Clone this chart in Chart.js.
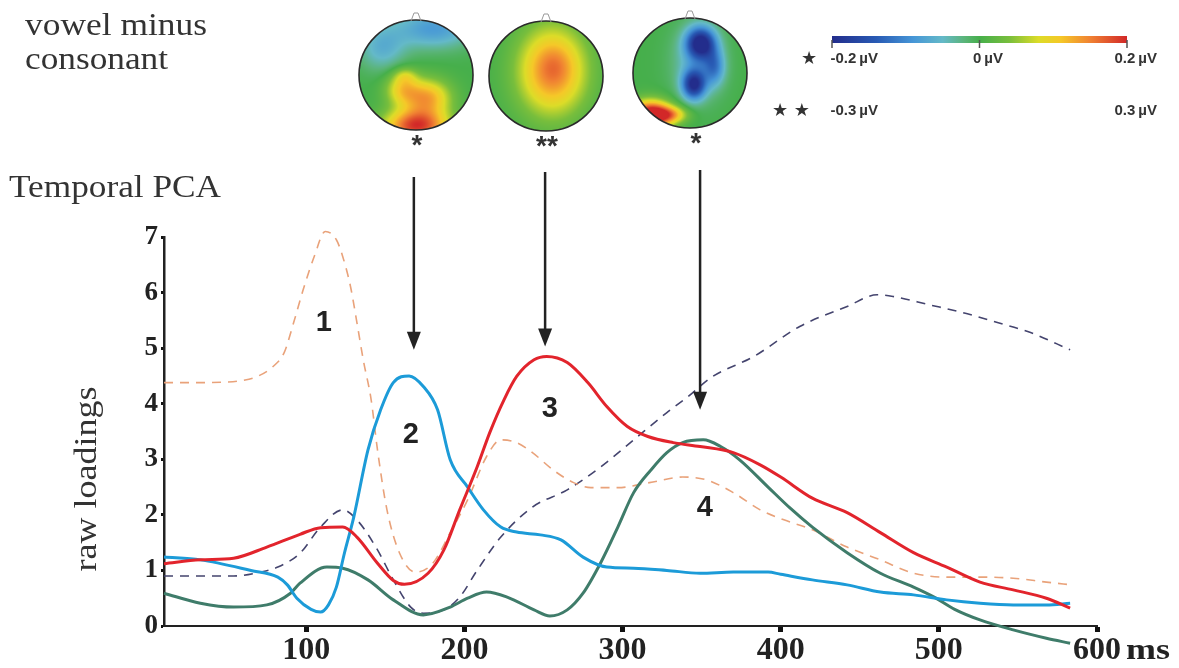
<!DOCTYPE html>
<html>
<head>
<meta charset="utf-8">
<script src="https://cdn.jsdelivr.net/npm/chart.js@4.4.1/dist/chart.umd.min.js"></script>
<style>
  html, body { margin: 0; padding: 0; background: #fff; }
  canvas { display: block; }
</style>
</head>
<body>
<canvas id="pcaChart" width="1179" height="668"></canvas>
<script>
// Temporal PCA factor loadings (ms vs raw loading)
const comp1Ms   = [10, 30, 50, 60, 69, 79, 86, 92, 98, 105, 112, 119, 123, 128, 132, 136, 141, 145, 151, 159, 169, 180, 191, 202, 214, 223, 233, 243, 256, 269, 280, 297, 317, 338, 353, 370, 387, 402, 420, 442, 463, 484, 505, 526, 547, 568, 584];
const comp1Load = [4.38, 4.38, 4.39, 4.42, 4.49, 4.67, 4.92, 5.46, 6.05, 6.65, 7.1, 6.95, 6.65, 6.1, 5.46, 4.79, 4.07, 3.17, 2.09, 1.31, 0.97, 1.13, 1.68, 2.27, 3.05, 3.35, 3.3, 3.12, 2.81, 2.58, 2.49, 2.49, 2.58, 2.68, 2.63, 2.4, 2.09, 1.91, 1.73, 1.42, 1.19, 0.95, 0.88, 0.88, 0.86, 0.79, 0.74];

const comp2Ms   = [10, 33, 65, 82, 88, 94, 103, 109, 114, 119, 124, 130, 139, 147, 155, 165, 174, 183, 191, 202, 212, 223, 233, 248, 261, 275, 290, 307, 328, 349, 370, 392, 400, 420, 442, 463, 484, 505, 526, 547, 568, 583];
const comp2Load = [1.24, 1.19, 1.0, 0.88, 0.74, 0.5, 0.3, 0.25, 0.38, 0.7, 1.3, 1.96, 3.17, 3.89, 4.38, 4.5, 4.31, 3.89, 2.99, 2.5, 2.09, 1.78, 1.69, 1.64, 1.55, 1.24, 1.06, 1.04, 1.0, 0.95, 0.97, 0.97, 0.93, 0.83, 0.74, 0.61, 0.56, 0.47, 0.41, 0.38, 0.38, 0.41];

const comp3Ms   = [10, 33, 54, 75, 96, 109, 123, 132, 145, 155, 162, 177, 187, 197, 208, 216, 225, 233, 244, 252, 265, 278, 290, 303, 316, 332, 349, 370, 387, 400, 420, 442, 463, 484, 505, 526, 547, 568, 583];
const comp3Load = [1.12, 1.19, 1.22, 1.42, 1.65, 1.77, 1.78, 1.6, 1.13, 0.82, 0.75, 0.95, 1.37, 2.09, 2.86, 3.48, 4.07, 4.49, 4.79, 4.85, 4.74, 4.38, 3.95, 3.59, 3.41, 3.3, 3.23, 3.12, 2.9, 2.68, 2.3, 2.04, 1.68, 1.32, 1.06, 0.79, 0.65, 0.5, 0.32];

const comp4Ms   = [10, 33, 54, 75, 90, 96, 113, 123, 139, 155, 174, 191, 202, 214, 227, 244, 254, 265, 275, 286, 297, 307, 318, 328, 338, 351, 362, 374, 392, 406, 420, 442, 463, 484, 497, 510, 526, 547, 568, 583];
const comp4Load = [0.59, 0.41, 0.34, 0.38, 0.59, 0.77, 1.06, 1.04, 0.83, 0.47, 0.2, 0.34, 0.5, 0.61, 0.52, 0.29, 0.18, 0.29, 0.59, 1.13, 1.78, 2.4, 2.81, 3.12, 3.3, 3.35, 3.23, 2.99, 2.5, 2.12, 1.78, 1.32, 0.95, 0.7, 0.52, 0.3, 0.11, -0.07, -0.22, -0.31];

const comp5Ms   = [10, 33, 54, 71, 82, 96, 109, 123, 132, 145, 155, 166, 174, 187, 197, 208, 223, 243, 265, 286, 307, 328, 341, 357, 383, 412, 442, 461, 471, 494, 515, 537, 558, 583];
const comp5Load = [0.9, 0.9, 0.9, 0.97, 1.06, 1.31, 1.78, 2.09, 1.91, 1.37, 0.83, 0.34, 0.23, 0.29, 0.52, 1.0, 1.6, 2.14, 2.45, 2.86, 3.35, 3.84, 4.12, 4.49, 4.85, 5.39, 5.75, 5.96, 5.93, 5.78, 5.64, 5.46, 5.28, 4.97];

const xTicks = [100, 200, 300, 400, 500, 600];
const yTicks = [0, 1, 2, 3, 4, 5, 6, 7];

// component numbers written next to their peaks
const compNames = ['1', '2', '3', '4'];
const compNameMs = [111, 166, 254, 352];
const compNameLoad = [5.46, 3.44, 3.9, 2.13];

// arrows from the topographies down to the peaks
const arrowMs = [168, 251, 349];
const arrowTipLoad = [4.97, 5.03, 3.89];
const arrowTopPx = [177, 172, 170];
const mapStars = ['*', '**', '*'];

// scalp map blobs: [u, v, sx, sy, amplitude] in unit-circle coords
const mapBlobs = [
  [[0.0, 0.92, 0.55, 0.3, 0.95], [0.2, 0.4, 0.4, 0.33, 0.62], [-0.25, 0.25, 0.3, 0.3, 0.45],
   [-0.2, 0.0, 0.2, 0.15, 0.2], [0.3, -0.85, 0.7, 0.35, -0.42], [-0.6, -0.5, 0.4, 0.4, -0.3]],
  [[0.1, -0.1, 0.6, 0.8, 0.75], [0.15, -0.2, 0.3, 0.35, 0.08]],
  [[0.18, -0.55, 0.25, 0.28, -1.0], [0.06, 0.2, 0.2, 0.26, -0.9], [0.42, -0.12, 0.18, 0.32, -0.45],
   [0.12, -0.2, 0.42, 0.65, -0.28], [-0.7, 0.75, 0.35, 0.25, 1.2], [-0.35, 0.75, 0.3, 0.15, 0.5]]
];
const mapCx = [416, 546, 690];
const mapCy = [75, 76, 73];

// jet-like colour scale, value -1..1
const cmapStops = [
  [-1.0, [35, 45, 140]], [-0.7, [40, 90, 180]], [-0.45, [70, 150, 215]], [-0.25, [100, 185, 200]],
  [-0.1, [90, 180, 120]], [0.0, [70, 175, 75]], [0.2, [120, 190, 60]], [0.4, [220, 220, 40]],
  [0.55, [245, 200, 40]], [0.75, [240, 130, 50]], [1.0, [210, 40, 40]]
];

const cmap = (v) => {
  v = Math.max(-1, Math.min(1, v));
  for (let i = 1; i < cmapStops.length; i++) {
    if (v <= cmapStops[i][0]) {
      const [a, ca] = cmapStops[i - 1];
      const [b, cb] = cmapStops[i];
      const t = (v - a) / (b - a);
      return ca.map((c, k) => Math.round(c + (cb[k] - c) * t));
    }
  }
  return cmapStops[cmapStops.length - 1][1];
};

const renderMap = (blobs, w, h) => {
  const off = document.createElement('canvas');
  off.width = w; off.height = h;
  const c = off.getContext('2d');
  const img = c.createImageData(w, h);
  for (let y = 0; y < h; y++) {
    for (let x = 0; x < w; x++) {
      const u = (x - w / 2) / (w / 2);
      const v = (y - h / 2) / (h / 2);
      let val = 0;
      blobs.forEach(([bx, by, sx, sy, a]) => {
        val += a * Math.exp(-((u - bx) ** 2 / (sx * sx) + (v - by) ** 2 / (sy * sy)));
      });
      const col = cmap(val);
      const p = (y * w + x) * 4;
      img.data[p] = col[0]; img.data[p + 1] = col[1]; img.data[p + 2] = col[2]; img.data[p + 3] = 255;
    }
  }
  c.putImageData(img, 0, 0);
  return off;
};

const stretchText = (ctx, text, x, y, width, align) => {
  const w = ctx.measureText(text).width;
  ctx.save();
  ctx.translate(x, y);
  ctx.scale(width / w, 1);
  ctx.textAlign = align || 'left';
  ctx.fillText(text, 0, 0);
  ctx.restore();
};

const toPoints = (ms, load) => ms.map((t, i) => ({ x: t, y: load[i] }));

const figureDecor = {
  id: 'figureDecor',
  afterDraw(chart) {
    const ctx = chart.ctx;
    const xs = chart.scales.x;
    const ys = chart.scales.y;
    ctx.save();

    // headings
    ctx.fillStyle = '#333';
    ctx.textBaseline = 'alphabetic';
    ctx.font = '32px "Liberation Serif"';
    stretchText(ctx, 'vowel minus', 25, 35, 182);
    stretchText(ctx, 'consonant', 25, 69, 143);
    stretchText(ctx, 'Temporal PCA', 9, 197, 212);

    // y axis title
    ctx.save();
    ctx.translate(96, 479);
    ctx.rotate(-Math.PI / 2);
    ctx.font = '32px "Liberation Serif"';
    ctx.textBaseline = 'alphabetic';
    stretchText(ctx, 'raw loadings', 0, 0, 185, 'center');
    ctx.restore();

    // unit after the last x tick
    ctx.font = 'bold 30px "Liberation Serif"';
    ctx.fillStyle = '#222';
    stretchText(ctx, 'ms', 1126, 659, 44);

    // scalp topographies
    const rx = 57, ry = 55;
    mapBlobs.forEach((blobs, i) => {
      const cx = mapCx[i], cy = mapCy[i];
      const img = renderMap(blobs, rx * 2, ry * 2);
      ctx.save();
      ctx.beginPath();
      ctx.ellipse(cx, cy, rx, ry, 0, 0, Math.PI * 2);
      ctx.clip();
      ctx.drawImage(img, cx - rx, cy - ry);
      ctx.restore();
      ctx.beginPath();
      ctx.ellipse(cx, cy, rx, ry, 0, 0, Math.PI * 2);
      ctx.strokeStyle = '#2a2a2a';
      ctx.lineWidth = 1.6;
      ctx.stroke();
      // nose
      ctx.beginPath();
      ctx.moveTo(cx - 5, cy - ry + 1);
      ctx.lineTo(cx - 2, cy - ry - 7);
      ctx.lineTo(cx + 2, cy - ry - 7);
      ctx.lineTo(cx + 5, cy - ry + 1);
      ctx.strokeStyle = '#999';
      ctx.lineWidth = 1;
      ctx.stroke();
      // significance stars
      ctx.fillStyle = '#333';
      ctx.font = 'bold 28px "Liberation Sans"';
      ctx.textAlign = 'center';
      ctx.textBaseline = 'top';
      ctx.fillText(mapStars[i], cx + (i === 2 ? 6 : 1), cy + ry + 2);
    });

    // colour bar
    const bx0 = 832, bx1 = 1127, by = 36;
    const grad = ctx.createLinearGradient(bx0, 0, bx1, 0);
    cmapStops.forEach(([v, c]) => grad.addColorStop((v + 1) / 2, `rgb(${c[0]},${c[1]},${c[2]})`));
    ctx.fillStyle = grad;
    ctx.fillRect(bx0, by, bx1 - bx0, 7);
    ctx.strokeStyle = '#555';
    ctx.lineWidth = 1.5;
    [bx0, (bx0 + bx1) / 2, bx1].forEach(x => {
      ctx.beginPath();
      ctx.moveTo(x, by + 4);
      ctx.lineTo(x, by + 12);
      ctx.stroke();
    });
    ctx.fillStyle = '#333';
    ctx.font = 'bold 15px "Liberation Sans"';
    ctx.textBaseline = 'middle';
    ctx.textAlign = 'right';
    ctx.fillText('-0.2\u2009\u00b5V', 878, 59);
    ctx.fillText('-0.3\u2009\u00b5V', 878, 111);
    ctx.fillText('0.2\u2009\u00b5V', 1157, 59);
    ctx.fillText('0.3\u2009\u00b5V', 1157, 111);
    ctx.textAlign = 'center';
    ctx.fillText('0\u2009\u00b5V', 988, 59);
    ctx.font = '18px "DejaVu Sans"';
    ctx.fillText('\u2605', 809, 59);
    ctx.fillText('\u2605 \u2605', 791, 111);

    // arrows
    ctx.strokeStyle = '#222';
    ctx.fillStyle = '#222';
    arrowMs.forEach((ms, i) => {
      const x = xs.getPixelForValue(ms);
      const tip = ys.getPixelForValue(arrowTipLoad[i]);
      ctx.lineWidth = 2.5;
      ctx.beginPath();
      ctx.moveTo(x, arrowTopPx[i]);
      ctx.lineTo(x, tip - 12);
      ctx.stroke();
      ctx.beginPath();
      ctx.moveTo(x - 7, tip - 18);
      ctx.lineTo(x + 7, tip - 18);
      ctx.lineTo(x, tip);
      ctx.closePath();
      ctx.fill();
    });

    // component numbers
    ctx.font = 'bold 29px "Liberation Sans"';
    ctx.fillStyle = '#222';
    ctx.textAlign = 'center';
    ctx.textBaseline = 'middle';
    compNames.forEach((n, i) => {
      ctx.fillText(n, xs.getPixelForValue(compNameMs[i]), ys.getPixelForValue(compNameLoad[i]));
    });

    ctx.restore();
  }
};

const solid = (label, ms, load, color) => ({
  label, data: toPoints(ms, load), borderColor: color, borderWidth: 3,
  pointRadius: 0, cubicInterpolationMode: 'monotone', clip: false, order: 1
});
const dashed = (label, ms, load, color) => ({
  label, data: toPoints(ms, load), borderColor: color, borderWidth: 1.6, borderDash: [9, 7],
  pointRadius: 0, cubicInterpolationMode: 'monotone', clip: false, order: 2
});

new Chart(document.getElementById('pcaChart'), {
  type: 'line',
  data: {
    datasets: [
      solid('Factor 3', comp3Ms, comp3Load, '#e2242c'),
      solid('Factor 2', comp2Ms, comp2Load, '#1c9bd8'),
      solid('Factor 4', comp4Ms, comp4Load, '#3f7c6a'),
      dashed('Factor 1', comp1Ms, comp1Load, '#e9a27a'),
      dashed('Factor 5', comp5Ms, comp5Load, '#44446e')
    ]
  },
  options: {
    responsive: false,
    animation: false,
    devicePixelRatio: 1,
    layout: { padding: { top: 237, right: 82, bottom: 0, left: 0 } },
    plugins: { legend: { display: false }, tooltip: { enabled: false } },
    scales: {
      x: {
        type: 'linear', min: 10, max: 600,
        afterBuildTicks: (s) => { s.ticks = xTicks.map(v => ({ value: v })); },
        afterFit: (s) => { s.height = 42; },
        ticks: { color: '#222', font: { family: 'Liberation Serif', weight: 'bold', size: 32 }, padding: 0, maxRotation: 0 },
        grid: { drawOnChartArea: false, tickLength: 6, tickWidth: 5, tickColor: '#111' },
        border: { color: '#222', width: 2 }
      },
      y: {
        min: 0, max: 7,
        afterBuildTicks: (s) => { s.ticks = yTicks.map(v => ({ value: v })); },
        afterFit: (s) => { s.width = 164; },
        ticks: { color: '#222', font: { family: 'Liberation Serif', weight: 'bold', size: 27 }, padding: 3 },
        grid: { drawOnChartArea: false, tickLength: 3, tickWidth: 3, tickColor: '#111' },
        border: { color: '#222', width: 2.5 }
      }
    }
  },
  plugins: [figureDecor]
});
</script>
</body>
</html>
